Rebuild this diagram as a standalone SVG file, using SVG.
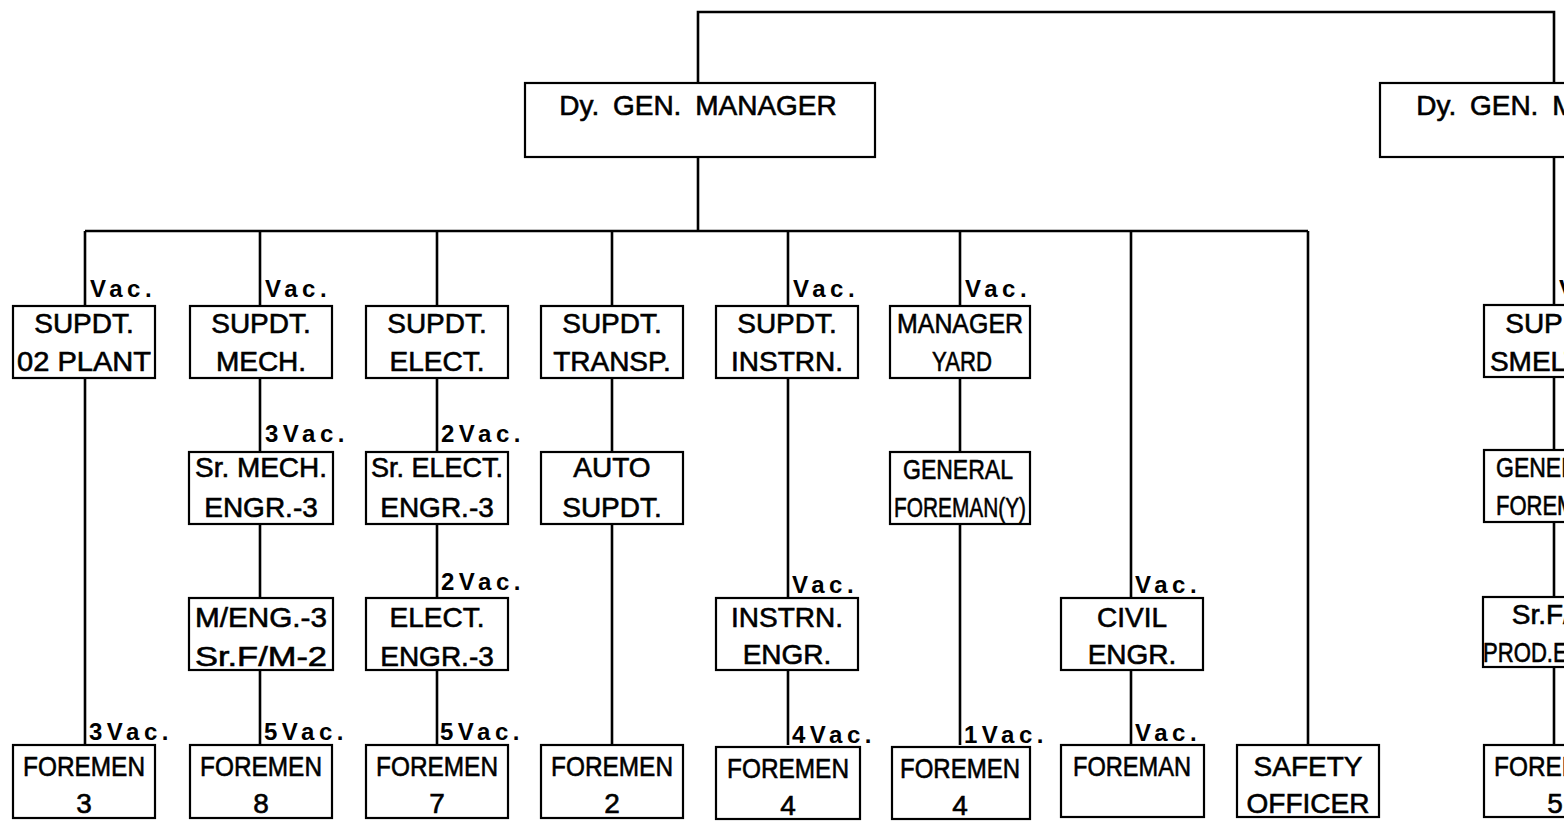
<svg xmlns="http://www.w3.org/2000/svg" width="1564" height="822" viewBox="0 0 1564 822">
<style>
.bg{fill:#fff}
.box{fill:#fff;stroke:#000;stroke-width:2.2}
.ln{stroke:#000;stroke-width:2.6;fill:none}
.t{font-family:"Liberation Sans",Arial,sans-serif;font-size:28px;text-anchor:middle;fill:#000;stroke:#000;stroke-width:0.6}
.h{font-family:"Liberation Sans",Arial,sans-serif;font-size:28px;text-anchor:middle;fill:#000;stroke:#000;stroke-width:0.6;word-spacing:6px}
.v{font-family:"Liberation Sans",Arial,sans-serif;font-size:24px;font-weight:bold;letter-spacing:4.5px;fill:#000}
</style>
<rect class="bg" x="0" y="0" width="1564" height="822"/>
<g id="connectors">
<path class="ln" d="M698,83 V12 H1554 V83"/>
<path class="ln" d="M698,157 V231"/>
<path class="ln" d="M85,231 H1308"/>
<path class="ln" d="M85,231 V745 M260,231 V745 M437,231 V745 M612,231 V745 M788,231 V745 M960,231 V745 M1131,231 V745 M1308,231 V745"/>
<path class="ln" d="M1554,157 V745"/>
</g>
<g id="dgm-left"><rect class="box" x="525" y="83" width="350" height="74"/><text class="h" x="698" y="115">Dy. GEN. MANAGER</text></g>
<g id="dgm-right"><rect class="box" x="1380" y="83" width="350" height="74"/><text class="h" x="1555" y="115">Dy. GEN. MANAGER</text></g>

<g id="n-o2"><rect class="box" x="13" y="306" width="142" height="72"/><text class="t" x="84" y="333">SUPDT.</text><text class="t" x="84" y="371" textLength="134" lengthAdjust="spacingAndGlyphs">02 PLANT</text><text class="v" x="90" y="297">Vac.</text></g>
<g id="n-mech"><rect class="box" x="190" y="306" width="142" height="72"/><text class="t" x="261" y="333">SUPDT.</text><text class="t" x="261" y="371">MECH.</text><text class="v" x="265" y="297">Vac.</text></g>
<g id="n-elect"><rect class="box" x="366" y="306" width="142" height="72"/><text class="t" x="437" y="333">SUPDT.</text><text class="t" x="437" y="371">ELECT.</text></g>
<g id="n-transp"><rect class="box" x="541" y="306" width="142" height="72"/><text class="t" x="612" y="333">SUPDT.</text><text class="t" x="612" y="371">TRANSP.</text></g>
<g id="n-instrn"><rect class="box" x="716" y="306" width="142" height="72"/><text class="t" x="787" y="333">SUPDT.</text><text class="t" x="787" y="371">INSTRN.</text><text class="v" x="793" y="297">Vac.</text></g>
<g id="n-yard"><rect class="box" x="890" y="306" width="140" height="72"/><text class="t" x="960" y="333" textLength="126" lengthAdjust="spacingAndGlyphs">MANAGER</text><text class="t" x="962" y="371" textLength="60" lengthAdjust="spacingAndGlyphs">YARD</text><text class="v" x="965" y="297">Vac.</text></g>
<g id="n-smelt"><rect class="box" x="1484" y="305" width="142" height="72"/><text class="t" x="1555" y="333">SUPDT.</text><text class="t" x="1555" y="371">SMELTER</text><text class="v" x="1559" y="297">Vac.</text></g>

<g id="n-srmech"><rect class="box" x="189" y="452" width="144" height="72"/><text class="t" x="261" y="477" textLength="132" lengthAdjust="spacingAndGlyphs">Sr. MECH.</text><text class="t" x="261" y="517">ENGR.-3</text><text class="v" x="265" y="442">3Vac.</text></g>
<g id="n-srelect"><rect class="box" x="366" y="452" width="142" height="72"/><text class="t" x="437" y="477" textLength="132" lengthAdjust="spacingAndGlyphs">Sr. ELECT.</text><text class="t" x="437" y="517">ENGR.-3</text><text class="v" x="441" y="442">2Vac.</text></g>
<g id="n-auto"><rect class="box" x="541" y="452" width="142" height="72"/><text class="t" x="612" y="477">AUTO</text><text class="t" x="612" y="517">SUPDT.</text></g>
<g id="n-genfy"><rect class="box" x="890" y="452" width="140" height="72"/><text class="t" x="958" y="479" textLength="110" lengthAdjust="spacingAndGlyphs">GENERAL</text><text class="t" x="960" y="517" textLength="132" lengthAdjust="spacingAndGlyphs">FOREMAN(Y)</text></g>
<g id="n-genfs"><rect class="box" x="1484" y="450" width="142" height="72"/><text class="t" x="1551" y="477" textLength="110" lengthAdjust="spacingAndGlyphs">GENERAL</text><text class="t" x="1551" y="515" textLength="110" lengthAdjust="spacingAndGlyphs">FOREMAN</text></g>

<g id="n-meng"><rect class="box" x="189" y="598" width="144" height="72"/><text class="t" x="261" y="627" textLength="132" lengthAdjust="spacingAndGlyphs">M/ENG.-3</text><text class="t" x="261" y="666" textLength="132" lengthAdjust="spacingAndGlyphs">Sr.F/M-2</text></g>
<g id="n-eleng"><rect class="box" x="366" y="598" width="142" height="72"/><text class="t" x="437" y="627">ELECT.</text><text class="t" x="437" y="666">ENGR.-3</text><text class="v" x="441" y="590">2Vac.</text></g>
<g id="n-insteng"><rect class="box" x="716" y="598" width="142" height="72"/><text class="t" x="787" y="627">INSTRN.</text><text class="t" x="787" y="664">ENGR.</text><text class="v" x="792" y="593">Vac.</text></g>
<g id="n-civil"><rect class="box" x="1061" y="598" width="142" height="72"/><text class="t" x="1132" y="627">CIVIL</text><text class="t" x="1132" y="664">ENGR.</text><text class="v" x="1135" y="593">Vac.</text></g>
<g id="n-srfprod"><rect class="box" x="1483" y="597" width="142" height="70"/><text class="t" x="1553" y="624">Sr.F/M</text><text class="t" x="1553" y="662" textLength="140" lengthAdjust="spacingAndGlyphs">PROD.ENGR.</text></g>

<g id="n-f3"><rect class="box" x="13" y="745" width="142" height="73"/><text class="t" x="84" y="776" textLength="122" lengthAdjust="spacingAndGlyphs">FOREMEN</text><text class="t" x="84" y="813">3</text><text class="v" x="89" y="740">3Vac.</text></g>
<g id="n-f8"><rect class="box" x="190" y="745" width="142" height="73"/><text class="t" x="261" y="776" textLength="122" lengthAdjust="spacingAndGlyphs">FOREMEN</text><text class="t" x="261" y="813">8</text><text class="v" x="264" y="740">5Vac.</text></g>
<g id="n-f7"><rect class="box" x="366" y="745" width="142" height="73"/><text class="t" x="437" y="776" textLength="122" lengthAdjust="spacingAndGlyphs">FOREMEN</text><text class="t" x="437" y="813">7</text><text class="v" x="440" y="740">5Vac.</text></g>
<g id="n-f2"><rect class="box" x="541" y="745" width="142" height="73"/><text class="t" x="612" y="776" textLength="122" lengthAdjust="spacingAndGlyphs">FOREMEN</text><text class="t" x="612" y="813">2</text></g>
<g id="n-f4a"><rect class="box" x="716" y="747" width="144" height="72"/><text class="t" x="788" y="778" textLength="122" lengthAdjust="spacingAndGlyphs">FOREMEN</text><text class="t" x="788" y="815">4</text><text class="v" x="792" y="743">4Vac.</text></g>
<g id="n-f4b"><rect class="box" x="892" y="747" width="138" height="72"/><text class="t" x="960" y="778" textLength="120" lengthAdjust="spacingAndGlyphs">FOREMEN</text><text class="t" x="960" y="815">4</text><text class="v" x="964" y="743">1Vac.</text></g>
<g id="n-fman"><rect class="box" x="1061" y="745" width="143" height="72"/><text class="t" x="1132" y="776" textLength="118" lengthAdjust="spacingAndGlyphs">FOREMAN</text><text class="v" x="1135" y="741">Vac.</text></g>
<g id="n-safety"><rect class="box" x="1237" y="745" width="142" height="72"/><text class="t" x="1308" y="776">SAFETY</text><text class="t" x="1308" y="813">OFFICER</text></g>
<g id="n-f5"><rect class="box" x="1484" y="745" width="142" height="72"/><text class="t" x="1555" y="776" textLength="122" lengthAdjust="spacingAndGlyphs">FOREMEN</text><text class="t" x="1555" y="813">5</text></g>
</svg>
